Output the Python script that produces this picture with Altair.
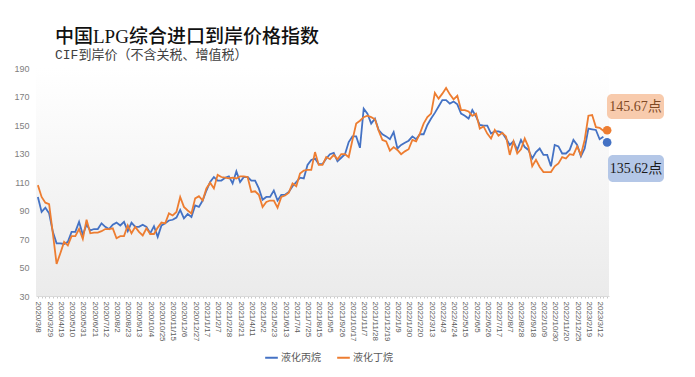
import altair as alt
import pandas as pd

# ---- data ----
tick_labels = [
    "2020/3/8", "2020/3/29", "2020/4/19", "2020/5/10", "2020/5/31", "2020/6/21", "2020/7/12",
    "2020/8/2", "2020/8/23", "2020/9/13", "2020/10/4", "2020/10/25", "2020/11/15", "2020/12/6",
    "2020/12/27", "2021/1/17", "2021/2/7", "2021/2/28", "2021/3/21", "2021/4/11", "2021/5/2",
    "2021/5/23", "2021/6/13", "2021/7/4", "2021/7/25", "2021/8/15", "2021/9/5", "2021/9/26",
    "2021/10/17", "2021/11/7", "2021/11/28", "2021/12/19", "2022/1/9", "2022/1/30", "2022/2/20",
    "2022/3/13", "2022/4/3", "2022/4/24", "2022/5/15", "2022/6/5", "2022/6/26", "2022/7/17",
    "2022/8/7", "2022/8/28", "2022/9/18", "2022/10/9", "2022/10/30", "2022/11/20", "2022/12/25",
    "2023/2/19", "2023/3/12",
]

propane = [
    99.5, 89, 92, 88, 75, 67, 67, 66.5, 68, 75, 75, 82, 73, 80, 76, 77, 77, 81, 78.5, 77,
    80, 81.5, 79.5, 82, 75.5, 81.5, 78.5, 78.5, 80, 78.5, 74, 79, 71.5, 79.5, 81, 83, 83.5, 85, 90.5, 84.5,
    87.5, 85.5, 93.5, 92.5, 97, 104, 110, 113.5, 111, 111, 113, 114, 109, 117.5, 110, 113.5, 113.5, 111, 111, 105.5,
    97.5, 99.5, 99.5, 104, 97, 101, 101, 103, 107, 110, 113, 112.5, 122, 125.5, 126.5, 122.5, 122.5, 126.5, 129.5, 130.5,
    124.5, 127, 129.5, 138, 142, 142, 134, 161.5, 158, 151, 154.5, 146.5, 143.5, 142, 140, 145, 133.5, 136, 137.5, 139,
    142, 140, 143.5, 143.5, 150, 154.5, 158.5, 163, 167.5, 167.5, 165, 166.5, 164.5, 158, 156.5, 154.5, 160.5, 156, 150, 149.5,
    149.5, 144, 145.5, 145.5, 144.5, 140.5, 136, 138.5, 132.5, 139.5, 134.5, 132.5, 126.5, 131, 133.5, 129, 129, 121, 136, 135,
    130, 130, 132.5, 139.5, 136, 128, 133.5, 147.5, 147, 146.5, 140, 141.8,
]

butane = [
    107.8, 99.5, 95.5, 94.5, 74, 52.5, 60, 68, 65.5, 72, 72, 77, 70, 83.5, 74, 74.5, 74.5, 75.5, 77, 77,
    77.5, 70.5, 72, 72, 79.5, 74, 78.5, 75, 72.5, 77.5, 73.5, 73.5, 78, 81.5, 81, 88, 86.5, 89, 99.5, 92.5,
    90, 88, 98.5, 100, 97, 105.5, 109.5, 105.5, 115, 113.5, 113, 112.5, 113, 112.5, 114, 114, 113.5, 103, 103.5, 101,
    92.5, 96, 97, 97, 92, 99.5, 100.5, 102.5, 109, 107, 116, 118, 118.5, 118.5, 131, 122, 122, 127.5, 126, 129,
    126, 129.5, 129.5, 127.5, 139.5, 151, 153, 155.5, 156.5, 155.5, 154, 146, 139.5, 138.5, 132, 134.5, 132.5, 129.5, 131.5, 133,
    139.5, 138.5, 144, 151, 155.5, 158, 172.5, 168.5, 172, 176, 171.5, 168, 170.5, 160.5, 160.5, 159.5, 156.5, 158, 147.5, 149,
    144, 140.5, 146.5, 142.5, 144.5, 142, 129, 138.5, 130, 133, 140.5, 134.5, 121, 125.5, 120.5, 117, 117, 117, 121, 123,
    127.5, 126.5, 129.5, 129, 135, 129, 139.5, 156.5, 157, 148.5, 148, 146,
]

series_names = ["液化丙烷", "液化丁烷"]
series_colors = ["#4472C4", "#ED7D31"]
last_labels = ["145.67点", "135.62点"]
dot_values = [146.3, 137.8]  # butane, propane marker positions
y_ticks = [30, 50, 70, 90, 110, 130, 150, 170, 190]

title_text = "中国LPG综合进口到岸价格指数"
subtitle_text = "CIF到岸价（不含关税、增值税）"

# ---- categories (weekly dates, every third one labelled) ----
def fmt(d):
    return f"{d.year}/{d.month}/{d.day}"

dates = []
for a, b in zip(tick_labels[:-1], tick_labels[1:]):
    da = pd.Timestamp(a.replace("/", "-"))
    dates += [a, fmt(da + pd.Timedelta(days=7)), fmt(da + pd.Timedelta(days=14))]
dl = pd.Timestamp(tick_labels[-1].replace("/", "-"))
dates += [tick_labels[-1], fmt(dl + pd.Timedelta(days=7)), fmt(dl + pd.Timedelta(days=14))]

rows = []
for i in range(len(propane)):
    rows.append({"date": dates[i], "value": propane[i], "series": series_names[0]})
for i in range(len(butane)):
    rows.append({"date": dates[i], "value": butane[i], "series": series_names[1]})
df = pd.DataFrame(rows)

label_list = "[" + ",".join("'" + s + "'" for s in tick_labels) + "]"

W, H = 573, 228

X = alt.X("date:N", sort=None,
          scale=alt.Scale(domain=dates, type="point", padding=0.5),
          axis=alt.Axis(title=None, labelAngle=90, labelFontSize=8, labelColor="#595959",
                        labelExpr=f"indexof({label_list}, datum.value) >= 0 ? datum.value : ''",
                        labelOverlap=False, labelPadding=3, tickSize=2, tickColor="#c8c8c8",
                        domainColor="#d9d9d9", labelFont="Liberation Sans"))
Y = alt.Y("value:Q", scale=alt.Scale(domain=[30, 190]),
          axis=alt.Axis(title=None, values=y_ticks, grid=False, ticks=False,
                        domain=False, labelFontSize=9, labelColor="#808080", labelPadding=7,
                        labelOverlap=False, labelFont="Liberation Sans"))

one = pd.DataFrame({"k": [0]})

bg = alt.Chart(one).mark_rect(
    color=alt.LinearGradient(gradient="linear", x1=0, y1=0, x2=0, y2=1,
                             stops=[alt.GradientStop(offset=0, color="#ffffff"),
                                    alt.GradientStop(offset=1, color="#ebebeb")])
).encode(x=alt.value(0), x2=alt.value(W), y=alt.value(0), y2=alt.value(H))

lines = alt.Chart(df).mark_line(strokeWidth=1.8).encode(
    x=X, y=Y,
    color=alt.Color("series:N", scale=alt.Scale(domain=series_names, range=series_colors),
                    legend=alt.Legend(title=None, orient="none", legendX=228, legendY=282,
                                      direction="horizontal", symbolType="stroke",
                                      symbolStrokeWidth=2, symbolSize=160, labelFontSize=10,
                                      labelOffset=2, labelColor="#595959", columnPadding=12,
                                      labelFont="Noto Sans CJK SC")),
)

dots_df = pd.DataFrame({
    "date": [dates[-1], dates[-1]],
    "value": dot_values,
    "c": [series_colors[1], series_colors[0]],
})
dots = alt.Chart(dots_df).mark_circle(size=75, opacity=1).encode(
    x=X, y=Y, color=alt.Color("c:N", scale=None),
)

title = alt.Chart(one).mark_text(
    text=title_text, align="left", baseline="alphabetic", fontSize=19, fontWeight=500,
    font="Liberation Serif, Noto Sans CJK SC", color="#111111",
).encode(x=alt.value(19), y=alt.value(-25))

subtitle = alt.Chart(one).mark_text(
    text=subtitle_text, align="left", baseline="alphabetic", fontSize=13,
    font="Liberation Mono, Noto Sans CJK SC", color="#404040",
).encode(x=alt.value(19), y=alt.value(-9))

box_o = alt.Chart(one).mark_rect(cornerRadius=5, color="#F8CBAD").encode(
    x=alt.value(571), x2=alt.value(628), y=alt.value(26), y2=alt.value(51))
box_b = alt.Chart(one).mark_rect(cornerRadius=5, color="#B4C7E7").encode(
    x=alt.value(572), x2=alt.value(628), y=alt.value(87), y2=alt.value(114))
txt_o = alt.Chart(one).mark_text(
    text=last_labels[0], align="center", baseline="middle", fontSize=14,
    font="Liberation Serif, Noto Sans CJK SC", color="#7F4A25",
).encode(x=alt.value(599.5), y=alt.value(39))
txt_b = alt.Chart(one).mark_text(
    text=last_labels[1], align="center", baseline="middle", fontSize=14,
    font="Liberation Serif, Noto Sans CJK SC", color="#1a1a1a",
).encode(x=alt.value(600), y=alt.value(100.5))

chart = alt.layer(bg, lines, dots, title, subtitle, box_o, box_b, txt_o, txt_b).properties(
    width=W, height=H,
    autosize=alt.AutoSizeParams(type="none"),
    padding={"left": 28, "top": 60, "right": 78, "bottom": 68},
).configure_view(stroke=None)

chart.save("out.html", embed_options={"renderer": "svg", "actions": False})
